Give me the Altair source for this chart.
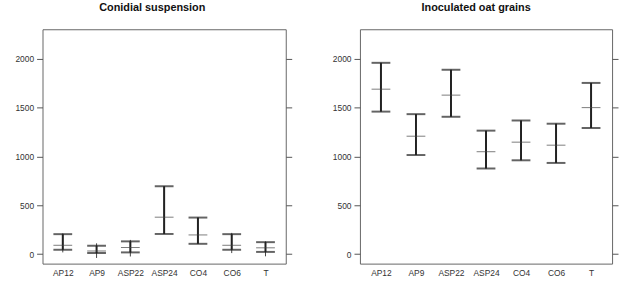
import altair as alt
import pandas as pd

cats = ["AP12", "AP9", "ASP22", "ASP24", "CO4", "CO6", "T"]

# Conidial suspension
left_upper = [204, 85, 130, 695, 374, 204, 122]
left_mean = [90, 32, 67, 378, 196, 90, 64]
left_lower = [44, 10, 17, 206, 105, 44, 22]
left_thin_hi = [212, 110, 145, 695, 374, 217, 130]
left_thin_lo = [17, -40, -25, 206, 105, 10, -23]

# Inoculated oat grains
right_upper = [1960, 1434, 1889, 1265, 1369, 1336, 1754]
right_mean = [1690, 1208, 1629, 1049, 1147, 1116, 1501]
right_lower = [1460, 1015, 1407, 877, 961, 934, 1292]
right_thin_hi = right_upper
right_thin_lo = right_lower

yticks = [0, 500, 1000, 1500, 2000]
FONT = "Liberation Sans"


def panel(title, upper, mean, lower, thin_hi, thin_lo, width, dx):
    df = pd.DataFrame({
        "cat": cats, "upper": upper, "mean": mean, "lower": lower,
        "thin_hi": thin_hi, "thin_lo": thin_lo,
    })
    xenc = alt.X("cat:N", sort=cats,
                 scale=alt.Scale(type="point", padding=0.6),
                 axis=alt.Axis(title=None, labelAngle=0, ticks=False, domain=False,
                               labelPadding=5, labelFontSize=8.5, labelColor="#333",
                               labelFont=FONT))
    yscale = alt.Scale(domain=[-98, 2304], nice=False, zero=False)
    left_axis = alt.Axis(values=yticks, format="d", title=None, grid=False, domain=False,
                         tickSize=6, tickColor="#555", labelPadding=3,
                         labelFontSize=8.5, labelColor="#333", labelFont=FONT)
    right_axis = alt.Axis(values=yticks, title=None, grid=False, domain=False,
                          orient="right", labels=False, tickSize=6, tickColor="#555")
    base = alt.Chart(df)
    thin = base.mark_rule(color="#444", strokeWidth=1).encode(
        x=xenc, y=alt.Y("thin_lo:Q", scale=yscale, axis=None), y2="thin_hi:Q")
    thick = base.mark_rule(color="#222", strokeWidth=2).encode(
        x=xenc, y=alt.Y("lower:Q", scale=yscale, axis=left_axis), y2="upper:Q")
    cap_u = base.mark_tick(color="#222", size=19, thickness=2).encode(
        x=xenc, y=alt.Y("upper:Q", scale=yscale, axis=None))
    cap_l = base.mark_tick(color="#222", size=19, thickness=2).encode(
        x=xenc, y=alt.Y("lower:Q", scale=yscale, axis=None))
    mtick = base.mark_tick(color="#444", size=19, thickness=1).encode(
        x=xenc, y=alt.Y("mean:Q", scale=yscale, axis=right_axis))
    return alt.layer(thin, thick, cap_u, cap_l, mtick).resolve_axis(
        y="independent").properties(
        width=width, height=237,
        title=alt.TitleParams(title, fontSize=11, fontWeight="bold", font=FONT,
                              color="#111", offset=16, dx=dx))


left = panel("Conidial suspension", left_upper, left_mean, left_lower,
             left_thin_hi, left_thin_lo, 246, -12)
right = panel("Inoculated oat grains", right_upper, right_mean, right_lower,
              right_thin_hi, right_thin_lo, 255, -10)

chart = alt.hconcat(left, right, spacing=39).properties(
    padding={"left": 14, "top": 0, "right": 0, "bottom": 4}
).configure(background="white").configure_view(stroke="#666", strokeWidth=1)

chart.save("out.html", embed_options={"renderer": "svg", "actions": False})
